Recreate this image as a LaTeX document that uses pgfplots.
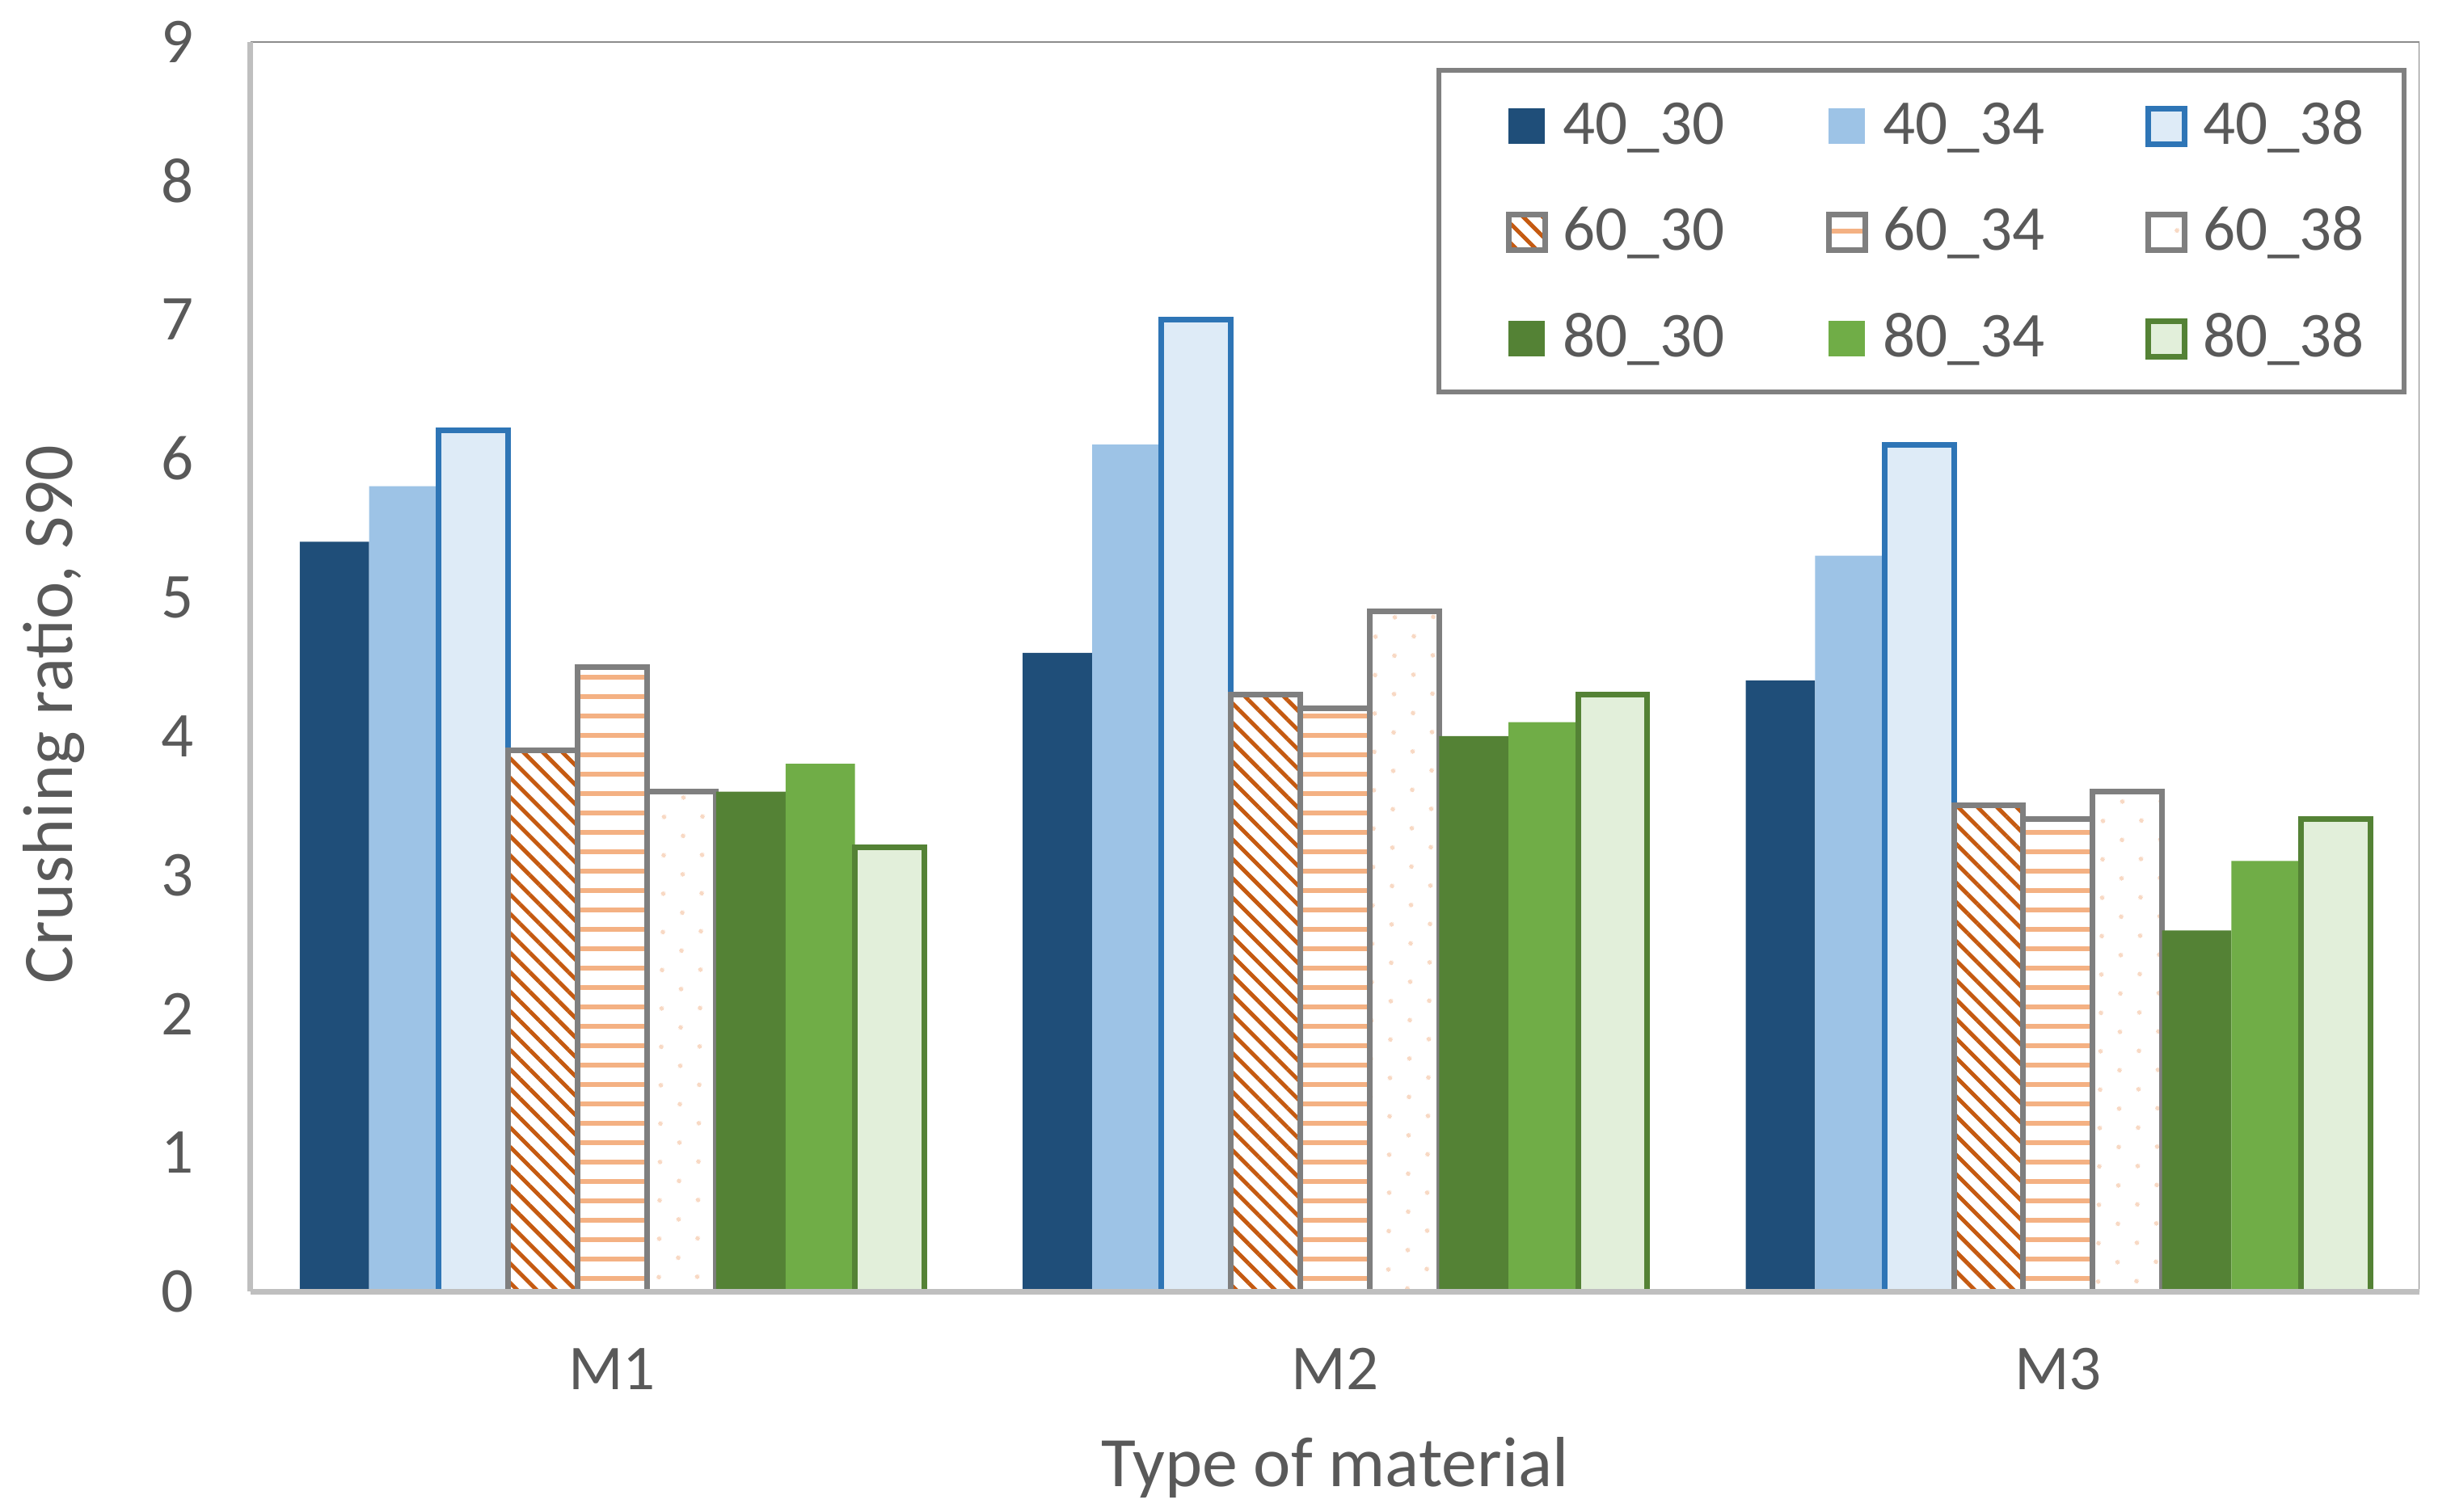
\documentclass[border=0pt]{standalone}
\usepackage{pgfplots}
\pgfplotsset{compat=1.18}
\usepackage{fontspec}
\setmainfont{Carlito}
\usetikzlibrary{patterns.meta,calc}

\definecolor{txt}{HTML}{595959}
\definecolor{axgray}{HTML}{BFBFBF}
\definecolor{framegray}{HTML}{8C8C8C}
\definecolor{leggray}{HTML}{808080}
\definecolor{bordgray}{HTML}{7F7F7F}
\definecolor{cA}{HTML}{1F4E79}
\definecolor{cB}{HTML}{9DC3E6}
\definecolor{cC}{HTML}{DEEBF7}
\definecolor{cCb}{HTML}{2E75B6}
\definecolor{cD}{HTML}{C55A11}
\definecolor{cE}{HTML}{F4B183}
\definecolor{cF}{HTML}{F8D9C4}
\definecolor{cG}{HTML}{548235}
\definecolor{cH}{HTML}{70AD47}
\definecolor{cI}{HTML}{E2EFDA}

\begin{document}
\begin{tikzpicture}
\begin{axis}[
    name=ax,
    scale only axis,
    width=26.83cm, height=15.46cm,
    ybar=0pt, bar width=0.096,
    xmin=-0.5, xmax=2.5, ymin=0, ymax=9,
    enlargelimits=false,
    xtick={0,1,2}, xticklabels={M1,M2,M3},
    ytick={0,1,...,9},
    major tick length=0pt,
    axis x line*=bottom, axis y line*=left,
    axis line style={-, draw=axgray, line width=0.07cm},
    axis on top,
    tick label style={font=\fontsize{22.5}{27}\selectfont, text=txt},
    /pgf/number format/assume math mode=true,
    yticklabel style={xshift=-0.58cm},
    xticklabel style={yshift=-0.58cm},
    xlabel={Type of material},
    ylabel={Crushing ratio, S90},
    label style={font=\fontsize{25}{30}\selectfont, text=txt},
    xlabel style={at={(axis description cs:0.5,-0.1164)}, anchor=north, inner sep=0pt},
    ylabel style={at={(axis description cs:-0.1051,0.462)}, anchor=north, inner sep=0pt},
    legend columns=3,
    legend cell align=left,
    legend style={at={(0.994,0.979)}, anchor=north east,
        draw=leggray, line width=0.06cm,
        inner xsep=0.49cm, inner ysep=0.40cm, row sep=0.77cm,
        font=\fontsize{22.5}{27}\selectfont, text=txt,
        nodes={inner sep=0pt, text height=0.51cm, text depth=0pt},
        /tikz/every even column/.append style={column sep=0.91cm}},
    legend image code/.code={
        \path (-0.34cm,-0.255cm) (0.64cm,0.185cm);
        \path[#1] (0cm,-0.255cm) rectangle (0.45cm,0.185cm);},
]
\draw[framegray, line width=0.025cm] (rel axis cs:0,0) rectangle (rel axis cs:1,1);

% 40_x
\addplot[fill=cA, draw=none] coordinates {(0,5.4) (1,4.6) (2,4.4)};
\addplot[fill=cB, draw=none] coordinates {(0,5.8) (1,6.1) (2,5.3)};
\addplot[fill=cC, draw=cCb, line width=0.07cm] coordinates {(0,6.2) (1,7.0) (2,6.1)};
% 60_x
\addplot[draw=bordgray, line width=0.07cm,
    pattern={Lines[angle=-45, distance=0.17cm, line width=0.05cm]}, pattern color=cD]
    coordinates {(0,3.9) (1,4.3) (2,3.5)};
\addplot[draw=bordgray, line width=0.07cm,
    pattern={Lines[angle=0, distance=0.24cm, line width=0.055cm]}, pattern color=cE]
    coordinates {(0,4.5) (1,4.2) (2,3.4)};
\addplot[draw=bordgray, line width=0.07cm,
    pattern={Dots[angle=45, distance=0.34cm, radius=0.03cm]}, pattern color=cF]
    coordinates {(0,3.6) (1,4.9) (2,3.6)};
% 80_x
\addplot[fill=cG, draw=none] coordinates {(0,3.6) (1,4.0) (2,2.6)};
\addplot[fill=cH, draw=none] coordinates {(0,3.8) (1,4.1) (2,3.1)};
\addplot[fill=cI, draw=cG, line width=0.07cm] coordinates {(0,3.2) (1,4.3) (2,3.4)};

\legend{40\_30, 40\_34, 40\_38, 60\_30, 60\_34, 60\_38, 80\_30, 80\_34, 80\_38}
\end{axis}
\pgfresetboundingbox
\path ($(ax.south west)+(-3.10cm,-2.72cm)$) rectangle ($(ax.north east)+(0.44cm,0.52cm)$);
\end{tikzpicture}
\end{document}
